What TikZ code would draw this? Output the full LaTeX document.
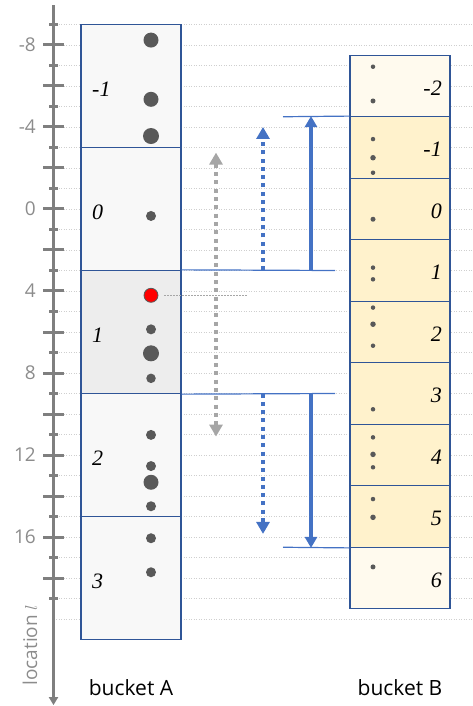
\documentclass[tikz,border=0pt]{standalone}
\usepackage{fontspec}
\newfontfamily\uifont{Open Sans}
\newfontfamily\numfont{Liberation Serif}
\usetikzlibrary{arrows.meta}

\definecolor{axisgray}{HTML}{7F7F7F}
\definecolor{ticktext}{HTML}{8C8C8C}
\definecolor{gridgray}{HTML}{CFCFCF}
\definecolor{boxblue}{HTML}{2F5597}
\definecolor{arrblue}{HTML}{4472C4}
\definecolor{arrgray}{HTML}{A6A6A6}
\definecolor{dotgray}{HTML}{595959}
\definecolor{fillA}{HTML}{F8F8F8}
\definecolor{fillAhi}{HTML}{EDEDED}
\definecolor{fillB}{HTML}{FFF2CC}
\definecolor{fillBend}{HTML}{FFFAEE}

\begin{document}
\begin{tikzpicture}[
    x=1pt, y=-20.5pt,
    gridline/.style={draw=gridgray, line width=0.8pt, dash pattern=on 1pt off 1.5pt},
    axisline/.style={draw=axisgray, line width=3pt, -{Triangle[length=8pt,width=9pt]}},
    tickmark/.style={draw=axisgray, line width=3pt},
    ticklabel/.style={anchor=east, text=ticktext, font=\uifont\fontsize{19}{19}\selectfont, inner sep=0pt},
    bucket/.style={draw=boxblue, line width=1.3pt, minimum width=100pt, inner sep=0pt},
    numlabel/.style={font=\numfont\fontsize{22}{22}\selectfont\itshape, inner sep=0pt},
    dotA/.style={circle, fill=dotgray, inner sep=0pt, minimum size=#1},
    blueline/.style={draw=arrblue, line width=1.2pt},
    solidarr/.style={-{Triangle[length=11pt,width=12pt]}, line width=3.8pt, arrblue},
    dotarr/.style={-{Triangle[length=12pt,width=13pt]}, line width=4pt, arrblue,
                   dash pattern=on 4pt off 4.3pt},
    gaparr/.style={{Triangle[length=12pt,width=13pt]}-{Triangle[length=12pt,width=13pt]},
                   line width=4pt, arrgray, dash pattern=on 4pt off 4.3pt},
    qline/.style={draw=arrgray, line width=1.5pt, dash pattern=on 1.5pt off 1.5pt}
  ]
    \useasboundingbox (0,-10.1951) rectangle (472,24.2439);

    % grid
    \foreach \v in {-9,...,20}
      \draw[gridline] (56,\v) -- (472,\v);

    % bucket A
    \foreach \j/\lab/\col in {0/-1/fillA,1/0/fillA,2/1/fillAhi,3/2/fillA,4/3/fillA}{
      \node[bucket, fill=\col, minimum height=123pt] (A\j) at (131,{6*\j-6}) {};
      \node[numlabel, anchor=west] (LA\j) at (92,{6*\j-5.85}) {\lab};
    }

    % bucket B
    \foreach \k/\lab/\col in {0/-2/fillBend,1/-1/fillB,2/0/fillB,3/1/fillB,4/2/fillB,
                              5/3/fillB,6/4/fillB,7/5/fillB,8/6/fillBend}{
      \node[bucket, fill=\col, minimum height=61.5pt] (B\k) at (400,{3*\k-6}) {};
      \node[numlabel, anchor=east] (LB\k) at (442,{3*\k-5.9}) {\lab};
    }

    % location axis
    \draw[axisline] (53.5,-9.95) -- (53.5,24.2);
    \foreach \v in {-9,...,19}{
      \ifodd\v\relax
        \draw[tickmark] (49,\v) -- (58,\v);
      \else
        \draw[tickmark] (43,\v) -- (64,\v);
      \fi
    }
    \foreach \v in {-8,-4,...,16}
      \node[ticklabel] (t\v) at (36,\v) {\v};
    \node[rotate=90, text=ticktext, font=\uifont\fontsize{19}{19}\selectfont]
      (loc) at (30,21.27) {location $l$};

    % points in bucket A
    \foreach \v/\d [count=\i] in {-8.24/15,-5.35/15,-3.56/16,0.34/10,5.87/10,7.04/16,
                                  8.26/9.5,11.02/10,12.54/10,13.33/15,14.5/10,16.06/10,17.72/10}
      \node[dotA=\d pt] (a\i) at (151,\v) {};
    \node[circle, fill=red, draw=dotgray, line width=0.8pt, minimum size=14pt,
          inner sep=0pt] (q) at (151,4.21) {};
    \coordinate (qend) at (248,4.21);
    \draw[qline] ([xshift=6pt]q.east) -- (qend);

    % points in bucket B
    \foreach \v/\d [count=\i] in {-6.94/4.5,-5.27/5,-3.41/4.5,-2.5/5.5,-1.77/4.5,0.5/5,
                                  2.86/4.5,3.43/4.5,4.81/4.5,5.62/5.5,6.67/4.5,9.77/4.5,
                                  11.14/4.5,11.97/5.5,12.6/4.5,14.15/4.5,15.04/5.5,17.46/5}
      \node[dotA=\d pt] (b\i) at (373,\v) {};

    % range of bucket 1
    \coordinate (cut0) at (335,3);
    \coordinate (cut1) at (335,9);
    \draw[blueline] (A2.north east) -- (cut0);
    \draw[blueline] (A2.south east) -- (cut1);
    \coordinate (lim0) at (283,-4.5);
    \coordinate (lim1) at (283,16.5);
    \draw[blueline] (lim0) -- (B1.north west);
    \draw[blueline] (lim1) -- (B7.south west);

    % search ranges
    \coordinate (g0) at (216,-2.75);
    \coordinate (g1) at (216,11.1);
    \draw[gaparr] (g0) -- (g1);
    \coordinate (d0) at (263,3);
    \coordinate (d1) at (263,9);
    \draw[dotarr] (d0) -- (263,-4);
    \draw[dotarr] (d1) -- (263,15.85);
    \coordinate (s0) at (311,3);
    \coordinate (s1) at (311,9);
    \draw[solidarr] (s0) -- (s0 |- B1.north);
    \draw[solidarr] (s1) -- (s1 |- B7.south);

    % captions
    \node[font=\uifont\fontsize{21}{21}\selectfont] (capA) at (131,23.37) {bucket A};
    \node[font=\uifont\fontsize{21}{21}\selectfont] (capB) at (400,23.37) {bucket B};
\end{tikzpicture}
\end{document}
